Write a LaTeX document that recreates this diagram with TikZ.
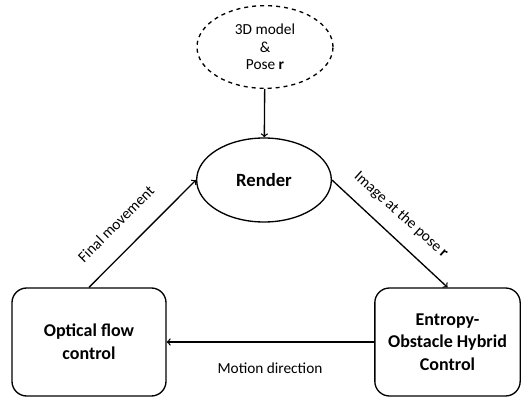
\documentclass[tikz,border=0pt]{standalone}
\usepackage{fontspec}
\setmainfont{Carlito}
\usepackage{tikz}
\usetikzlibrary{shapes.geometric}
\tikzstyle{block}=[draw, rounded corners=11pt, align=center, font=\bfseries\fontsize{13.5}{17}\selectfont, minimum height=81pt]
\tikzstyle{oval}=[draw, ellipse, align=center, inner sep=0pt]
\tikzstyle{lbl}=[font=\fontsize{11.5}{13}\selectfont]

\begin{document}
\begin{tikzpicture}[line width=1pt, x=0.75pt, y=0.75pt]%
	\useasboundingbox (0,0) rectangle (521,397);

	\begin{scope}
		\draw  (265,350)   node (State_Model)   [oval, dashed, lbl, minimum width=102pt, minimum height=62pt]  {3D model\\\&\\Pose \textbf{r}};
		\draw  (264,217)   node (State_Render)  [oval, font=\bfseries\fontsize{14}{16}\selectfont, minimum width=101pt, minimum height=63pt]  {Render};
		\draw  (89,55)     node (State_Optical) [block, minimum width=115.5pt]  {Optical flow\\control};
		\draw  (447.5,55)  node (State_Entropy) [block, minimum width=109pt]  {Entropy-\\Obstacle Hybrid\\Control};

		\draw [->] (State_Model) to (State_Render);
		\draw [->] (State_Render.east) to (State_Entropy.north);
		\draw [->] (State_Entropy) to (State_Optical);
		\draw [->] (State_Optical.north) to (State_Render.west);

		\draw [color=black] (116,173)  node (Label_Final) [lbl, rotate=45] {Final movement};
		\draw [color=black] (401,182)  node (Label_Image) [lbl, rotate=-42] {Image at the pose \textbf{r}};
		\draw [color=black] (270,29)   node (Label_Motion) [lbl] {Motion direction};
	\end{scope}

\end{tikzpicture}
\end{document}
